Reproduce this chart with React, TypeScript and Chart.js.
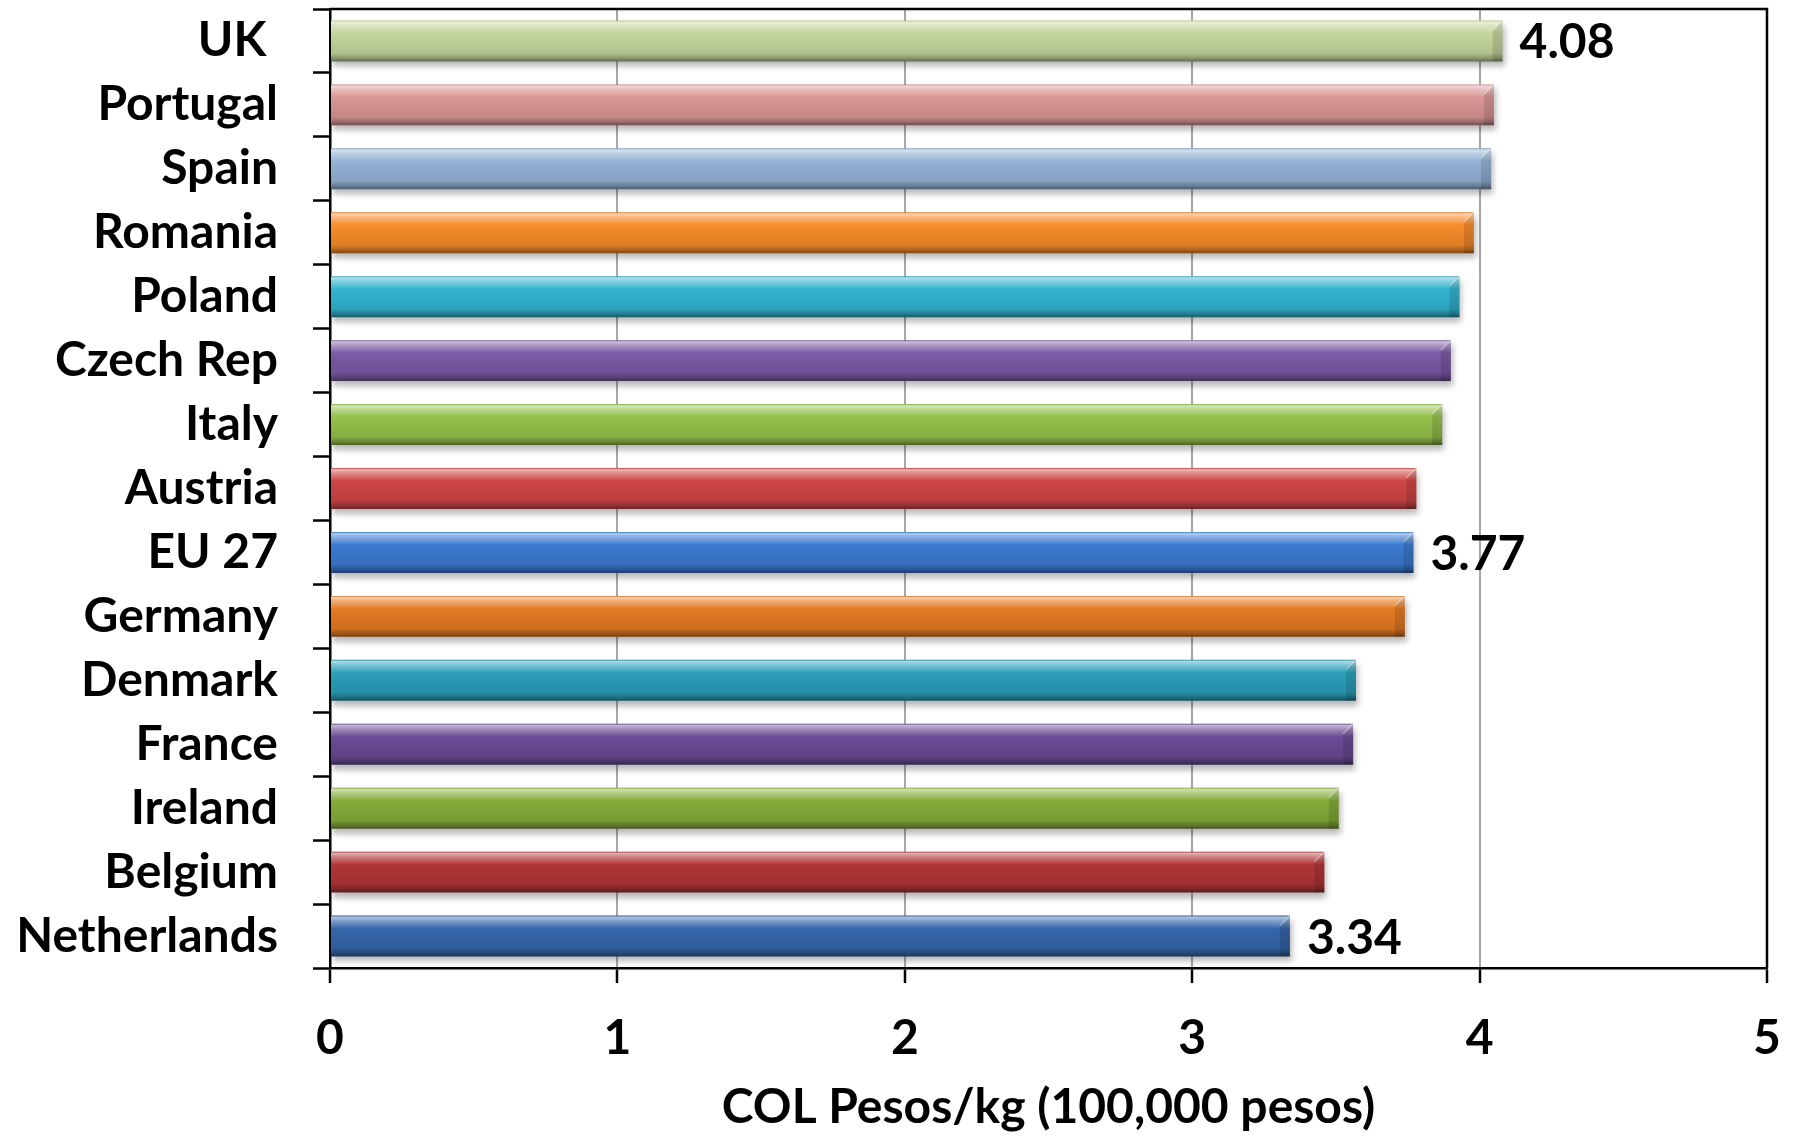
import React, { useEffect, useRef } from "react";
import { Chart, registerables } from "chart.js";

Chart.register(...registerables);

const categories = ["UK ", "Portugal", "Spain", "Romania", "Poland", "Czech Rep", "Italy", "Austria", "EU 27", "Germany", "Denmark", "France", "Ireland", "Belgium", "Netherlands"];
const values = [4.08, 4.05, 4.04, 3.98, 3.93, 3.90, 3.87, 3.78, 3.77, 3.74, 3.57, 3.56, 3.51, 3.46, 3.34];
const barColors = ["#c3d69b", "#d99694", "#95b3d7", "#f78c2a", "#32b4d0", "#7b5aa6", "#94c04a", "#d04545", "#3b7ad0", "#e47a22", "#2a9fb8", "#6a4a94", "#86ac3a", "#b23535", "#3566aa"];
const labeledCategories = ["UK ", "EU 27", "Netherlands"];
const xTicks = [0, 1, 2, 3, 4, 5];
const xTitle = "COL Pesos/kg (100,000 pesos)";

const FONT = "Lato";
const FSIZE = 48;
const BAR_PCT = 0.64;

function hexToRgb(h: string) {
  const n = parseInt(h.slice(1), 16);
  return [(n >> 16) & 255, (n >> 8) & 255, n & 255];
}
function mix(h: string, target: number, t: number) {
  const c = hexToRgb(h).map((v) => Math.round(v + (target - v) * t));
  return `rgb(${c[0]},${c[1]},${c[2]})`;
}

export default function App() {
  const ref = useRef<HTMLCanvasElement | null>(null);
  useEffect(() => {
    if (!ref.current) return;
    const shadowPlugin = {
      id: "shadow",
      beforeDatasetDraw(chart: any) {
        const c = chart.ctx;
        c.save();
        c.shadowColor = "rgba(0,0,0,0.28)";
        c.shadowBlur = 6;
        c.shadowOffsetX = 2;
        c.shadowOffsetY = 5;
      },
      afterDatasetDraw(chart: any) {
        chart.ctx.restore();
      },
    };
    const framePlugin = {
      id: "frame",
      afterDraw(chart: any) {
        const { ctx, chartArea } = chart;
        ctx.save();
        ctx.strokeStyle = "#000";
        ctx.lineWidth = 2.5;
        ctx.beginPath();
        ctx.moveTo(chartArea.left, chartArea.top);
        ctx.lineTo(chartArea.right, chartArea.top);
        ctx.lineTo(chartArea.right, chartArea.bottom);
        ctx.stroke();
        ctx.restore();
      },
    };
    const labelPlugin = {
      id: "valueLabels",
      afterDatasetsDraw(chart: any) {
        const { ctx } = chart;
        const meta = chart.getDatasetMeta(0);
        ctx.save();
        // bevel on the right end of each bar
        meta.data.forEach((bar: any) => {
          const top = bar.y - bar.height / 2;
          const bot = bar.y + bar.height / 2;
          const x = bar.x;
          const w = 10;
          ctx.beginPath();
          ctx.moveTo(x - w, top + w);
          ctx.lineTo(x, top);
          ctx.lineTo(x, bot);
          ctx.lineTo(x - w, bot);
          ctx.closePath();
          ctx.fillStyle = "rgba(0,0,0,0.12)";
          ctx.fill();
          ctx.beginPath();
          ctx.moveTo(x - w, top + w);
          ctx.lineTo(x, top);
          ctx.strokeStyle = "rgba(255,255,255,0.35)";
          ctx.lineWidth = 1.5;
          ctx.stroke();
        });
        ctx.font = `bold ${FSIZE}px ${FONT}`;
        ctx.fillStyle = "#000";
        ctx.textAlign = "left";
        ctx.textBaseline = "middle";
        meta.data.forEach((bar: any, i: number) => {
          if (!labeledCategories.includes(categories[i])) return;
          ctx.fillText(values[i].toFixed(2), bar.x + 17, bar.y + 2);
        });
        ctx.restore();
      },
    };
    const chart = new Chart(ref.current, {
      type: "bar",
      data: {
        labels: categories,
        datasets: [
          {
            data: values,
            barPercentage: BAR_PCT,
            categoryPercentage: 1,
            borderWidth: 0,
            backgroundColor: (ctx: any) => {
              const base = barColors[ctx.dataIndex ?? 0] || "#888";
              const chart = ctx.chart;
              const { chartArea, scales } = chart;
              if (!chartArea || !scales.y || ctx.type !== "data") return base;
              const yc = scales.y.getPixelForValue(ctx.dataIndex);
              const band = (chartArea.bottom - chartArea.top) / categories.length;
              const half = (band * BAR_PCT) / 2;
              const g = chart.ctx.createLinearGradient(0, yc - half, 0, yc + half);
              g.addColorStop(0, mix(base, 0, 0.1));
              g.addColorStop(0.04, mix(base, 255, 0.6));
              g.addColorStop(0.14, mix(base, 255, 0.35));
              g.addColorStop(0.32, base);
              g.addColorStop(0.8, mix(base, 0, 0.1));
              g.addColorStop(0.92, mix(base, 0, 0.3));
              g.addColorStop(1, mix(base, 0, 0.5));
              return g;
            },
          },
        ],
      },
      options: {
        indexAxis: "y",
        animation: false,
        responsive: true,
        maintainAspectRatio: false,
        layout: { padding: { top: 9, right: 26, left: 0, bottom: 0 } },
        plugins: { legend: { display: false }, tooltip: { enabled: false } },
        scales: {
          x: {
            type: "linear",
            min: xTicks[0],
            max: xTicks[xTicks.length - 1],
            afterBuildTicks: (scale: any) => {
              scale.ticks = xTicks.map((v) => ({ value: v }));
            },
            afterFit: (scale: any) => {
              scale.height = 168;
              scale.paddingLeft = 0;
              scale.paddingRight = 0;
              scale.paddingTop = 0;
              scale.paddingBottom = 0;
            },
            grid: {
              color: "#a6a6a6",
              lineWidth: 2,
              tickColor: "#000",
              tickWidth: 2.5,
              tickLength: 15,
              drawTicks: true,
            },
            border: { color: "#000", width: 2.5 },
            ticks: {
              color: "#000",
              padding: 27,
              font: { family: FONT, size: FSIZE, weight: "bold" },
            },
            title: {
              display: true,
              text: xTitle,
              color: "#000",
              padding: { top: 0, bottom: 0 },
              font: { family: FONT, size: FSIZE, weight: "bold" },
            },
          },
          y: {
            type: "category",
            afterFit: (scale: any) => {
              scale.width = 330;
              scale.paddingLeft = 0;
              scale.paddingRight = 0;
              scale.paddingTop = 0;
              scale.paddingBottom = 0;
            },
            grid: {
              offset: true,
              drawOnChartArea: false,
              drawTicks: true,
              tickLength: 17,
              tickColor: "#000",
              tickWidth: 2.5,
            },
            border: { color: "#000", width: 2.5 },
            ticks: {
              color: "#000",
              padding: 35,
              autoSkip: false,
              font: { family: FONT, size: FSIZE, weight: "bold" },
            },
          },
        },
      },
      plugins: [shadowPlugin, framePlugin, labelPlugin],
    } as any);
    return () => chart.destroy();
  }, []);
  return (
    <div style={{ position: "absolute", left: 0, top: 0, width: 1793, height: 1136, background: "#fff" }}>
      <canvas ref={ref} />
    </div>
  );
}
